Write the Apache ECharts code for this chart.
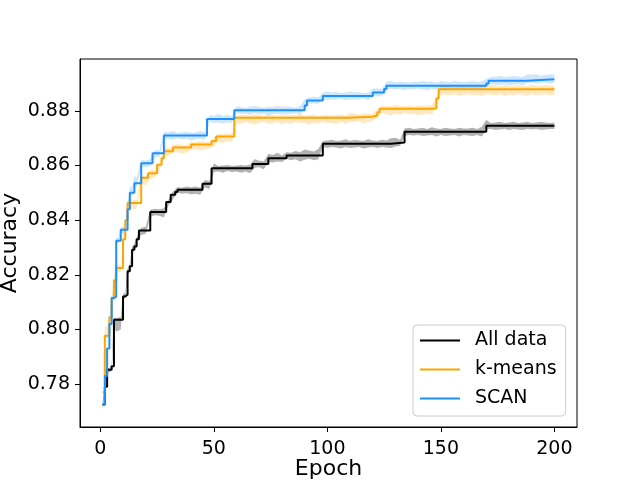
<!DOCTYPE html>
<html>
<head>
<meta charset="utf-8">
<script src="https://cdn.jsdelivr.net/npm/echarts@6/dist/echarts.min.js"></script>
<style>html,body{margin:0;padding:0;background:#fff}#c{width:640px;height:480px}</style>
</head>
<body>
<div id="c"></div>
<script>
// ---- step curves: [epoch, value] (value holds from that epoch on) ----
const allDataSteps = [[1,0.7725],[2,0.7790],[3,0.7853],[5,0.7865],[6,0.8036],[10,0.8121],[11,0.8127],[12,0.8213],[13,0.8231],[14,0.8292],[15,0.8304],[16,0.8330],[17,0.8362],[22,0.8430],[29,0.8467],[31,0.8493],[33,0.8503],[34,0.8511],[45,0.8533],[49,0.8590],[67,0.8606],[74,0.8627],[82,0.8637],[98,0.8680],[128,0.8684],[134,0.8724],[170,0.8746],[200,0.8746]];
const kmeansSteps = [[1,0.7770],[2,0.7977],[4,0.8045],[5,0.8115],[6,0.8180],[7,0.8225],[10,0.8330],[11,0.8400],[12,0.8463],[18,0.8555],[21,0.8572],[25,0.8603],[27,0.8627],[28,0.8652],[32,0.8666],[40,0.8677],[49,0.8690],[51,0.8706],[59,0.8775],[109,0.8779],[120,0.8783],[122,0.8795],[123,0.8808],[147,0.8810],[148,0.8845],[149,0.8879],[200,0.8879]];
const scanSteps = [[1,0.7725],[2,0.7830],[3,0.7930],[4,0.8020],[5,0.8115],[6,0.8120],[7,0.8325],[9,0.8365],[12,0.8440],[13,0.8500],[15,0.8535],[18,0.8608],[23,0.8645],[28,0.8710],[47,0.8770],[59,0.8802],[90,0.8820],[91,0.8838],[98,0.8855],[120,0.8867],[125,0.8880],[126,0.8892],[170,0.8900],[171,0.8910],[188,0.8916],[200,0.8917]];

// ---- band sample epochs and band extent below / above the curve (units of 1e-4) ----
const bandEpochs = [1,2,3,4,5,6,7,8,9,10,11,12,13,14,15,16,
 18,20,22,24,26,28,30,32,34,36,38,40,42,44,46,48,50,52,54,56,58,60,
 62,64,66,68,70,72,74,76,78,80,82,84,86,88,90,92,94,96,98,100,
 102,104,106,108,110,112,114,116,118,120,122,124,126,128,130,132,134,136,138,140,
 142,144,146,148,150,152,154,156,158,160,162,164,166,168,170,172,174,176,178,180,
 182,184,186,188,190,192,194,196,198,200];
const allDataBelow = [20,12,8,10,14,30,44,40,36,14,12,14,16,12,14,10,
 16,12,18,12,14,20,12,16,10,14,12,16,
 14,18,12,20,14,12,16,10,14,12,
 16,12,18,14,12,20,14,16,12,14,
 12,18,14,22,16,12,18,14,12,16,
 12,14,18,12,16,14,12,18,14,12,
 16,12,14,20,14,12,16,12,14,12,
 16,14,12,18,12,16,14,12,18,12,
 14,16,12,18,14,12,16,14,12,16,
 12,14,16,12,14,12,16,14,12,12];
const allDataAbove = [4,6,6,6,6,6,6,8,10,8,8,10,10,12,10,8,
 10,14,8,12,10,14,8,12,10,8,12,10,
 12,8,14,10,18,8,10,12,8,10,
 12,10,14,18,12,10,16,12,20,10,
 12,10,16,12,22,18,14,24,10,12,
 14,10,12,16,10,14,12,10,16,12,
 10,14,12,16,18,10,12,14,10,12,
 14,10,16,12,10,14,12,10,14,12,
 12,14,10,18,22,10,12,14,10,12,
 14,10,12,14,10,12,14,12,10,12];
const kmeansBelow = [4,8,10,14,18,22,12,16,14,30,40,26,22,20,24,18,
 22,28,20,16,22,18,14,20,16,22,18,20,
 16,22,18,14,20,18,24,16,20,18,
 22,16,20,26,18,16,22,20,16,24,
 18,22,16,20,18,26,18,22,16,20,
 18,24,16,22,18,20,16,24,20,18,
 22,16,20,24,18,22,16,20,18,24,
 20,18,22,26,18,20,22,18,24,20,
 18,22,20,24,18,20,22,18,24,20,
 22,18,20,24,18,22,20,18,22,20];
const kmeansAbove = [4,30,36,12,10,10,10,12,10,8,8,10,8,10,12,10,
 10,8,12,10,8,14,10,8,12,10,8,10,
 8,12,10,8,14,10,8,12,10,8,
 10,12,8,14,10,8,12,10,8,10,
 12,8,10,14,8,10,12,8,10,12,
 8,10,12,8,14,10,8,12,10,8,
 10,12,8,10,14,8,10,12,8,10,
 12,10,14,8,16,12,14,10,12,14,
 12,16,12,14,12,16,14,12,16,14,
 12,16,14,12,16,14,12,16,14,12];
const scanBelow = [8,6,8,8,10,12,12,10,12,14,12,14,12,10,12,14,
 12,14,10,16,12,14,12,16,10,14,12,18,
 14,12,16,10,14,12,16,12,14,10,
 14,12,16,10,14,12,18,14,12,16,
 12,14,10,16,14,12,10,14,12,16,
 12,14,10,16,12,14,12,10,16,12,
 14,12,16,10,14,12,16,12,14,10,
 14,16,12,14,10,16,12,14,12,16,
 12,14,16,12,14,10,16,14,12,16,
 14,12,16,14,12,16,14,12,16,14];
const scanAbove = [4,6,6,8,8,10,10,12,10,10,14,20,24,20,26,22,
 14,10,16,12,10,14,12,16,10,12,14,10,
 12,16,10,14,12,20,12,16,10,14,
 12,10,14,16,12,10,14,12,16,12,
 14,12,10,16,22,12,14,10,12,16,
 12,14,10,12,16,12,14,10,12,14,
 16,12,14,18,12,16,14,12,16,14,
 18,14,16,12,18,16,14,18,16,14,
 16,18,14,16,18,14,16,18,14,16,
 18,16,14,18,16,18,14,16,18,16];

const xTicks = [0,50,100,150,200];
const yTicks = [0.78,0.80,0.82,0.84,0.86,0.88];
const seriesNames = ['All data','k-means','SCAN'];
const seriesColors = ['#000000','#FFA500','#1E90FF'];
const bandColors = ['rgba(0,0,0,0.3)','rgba(255,165,0,0.25)','rgba(30,144,255,0.22)'];

function valueAt(steps, e){
  let v = steps[0][1];
  for (const s of steps){ if (s[0] <= e) v = s[1]; else break; }
  return v;
}

const stepsList = [allDataSteps, kmeansSteps, scanSteps];
const belowList = [allDataBelow, kmeansBelow, scanBelow];
const aboveList = [allDataAbove, kmeansAbove, scanAbove];

const series = [];
stepsList.forEach((steps, k) => {
  const lo = bandEpochs.map((e,i) => [e, valueAt(steps,e) - belowList[k][i]*1e-4]);
  const hi = bandEpochs.map((e,i) => [e, valueAt(steps,e) + aboveList[k][i]*1e-4]);
  series.push({
    type:'custom', silent:true, z: 1 + k, clip:true, animation:false,
    data: [[lo[0][0], lo[0][1]]],
    renderItem: function(params, api){
      const pts = hi.map(p => api.coord(p)).concat(lo.slice().reverse().map(p => api.coord(p)));
      return {type:'polygon', shape:{points: pts}, style:{fill: bandColors[k], stroke:null}};
    }
  });
});
stepsList.forEach((steps, k) => {
  series.push({
    name: seriesNames[k], type:'line', data: steps, step:'end', symbol:'none', showSymbol:false,
    color: seriesColors[k], lineStyle:{color: seriesColors[k], width:2}, z: 10 + k, animation:false
  });
});

const font = 'DejaVu Sans';
const chart = echarts.init(document.getElementById('c'), null, {renderer:'canvas'});
chart.setOption({
  animation:false,
  backgroundColor:'#ffffff',
  grid:{left:80, right:63, top:59, bottom:53, outerBoundsMode:'none', containLabel:false,
        show:true, borderColor:'#000', borderWidth:1, backgroundColor:'transparent'},
  xAxis:{
    type:'value', min:-8.95, max:209.95,
    name:'Epoch', nameLocation:'middle', nameGap:31, nameMoveOverlap:false,
    nameTextStyle:{fontFamily:font, fontSize:22, color:'#000'},
    axisLine:{show:true, onZero:false, lineStyle:{color:'#000', width:1}},
    axisTick:{show:true, length:5, lineStyle:{color:'#000'}, customValues: xTicks},
    axisLabel:{fontFamily:font, fontSize:19, color:'#000', margin:13, customValues: xTicks},
    splitLine:{show:false}
  },
  yAxis:{
    type:'value', min:0.7643, max:0.899,
    name:'Accuracy', nameLocation:'middle', nameGap:59, nameMoveOverlap:false,
    nameTextStyle:{fontFamily:font, fontSize:22, color:'#000'},
    axisLine:{show:true, onZero:false, lineStyle:{color:'#000', width:1}},
    axisTick:{show:true, length:5, lineStyle:{color:'#000'}, customValues: yTicks},
    axisLabel:{fontFamily:font, fontSize:19, color:'#000', margin:10, customValues: yTicks,
      formatter: v => v.toFixed(2)},
    splitLine:{show:false}
  },
  legend:{
    data: seriesNames, orient:'vertical', left:413, top:325,
    icon:'rect', itemWidth:40, itemHeight:2, itemGap:10,
    backgroundColor:'rgba(255,255,255,0.85)', borderColor:'#cccccc', borderWidth:1, borderRadius:4,
    padding:[6,9,8,7],
    textStyle:{fontFamily:font, fontSize:19, color:'#000', lineHeight:19, padding:[0,0,0,10]}
  },
  series: series
});
</script>
</body>
</html>
